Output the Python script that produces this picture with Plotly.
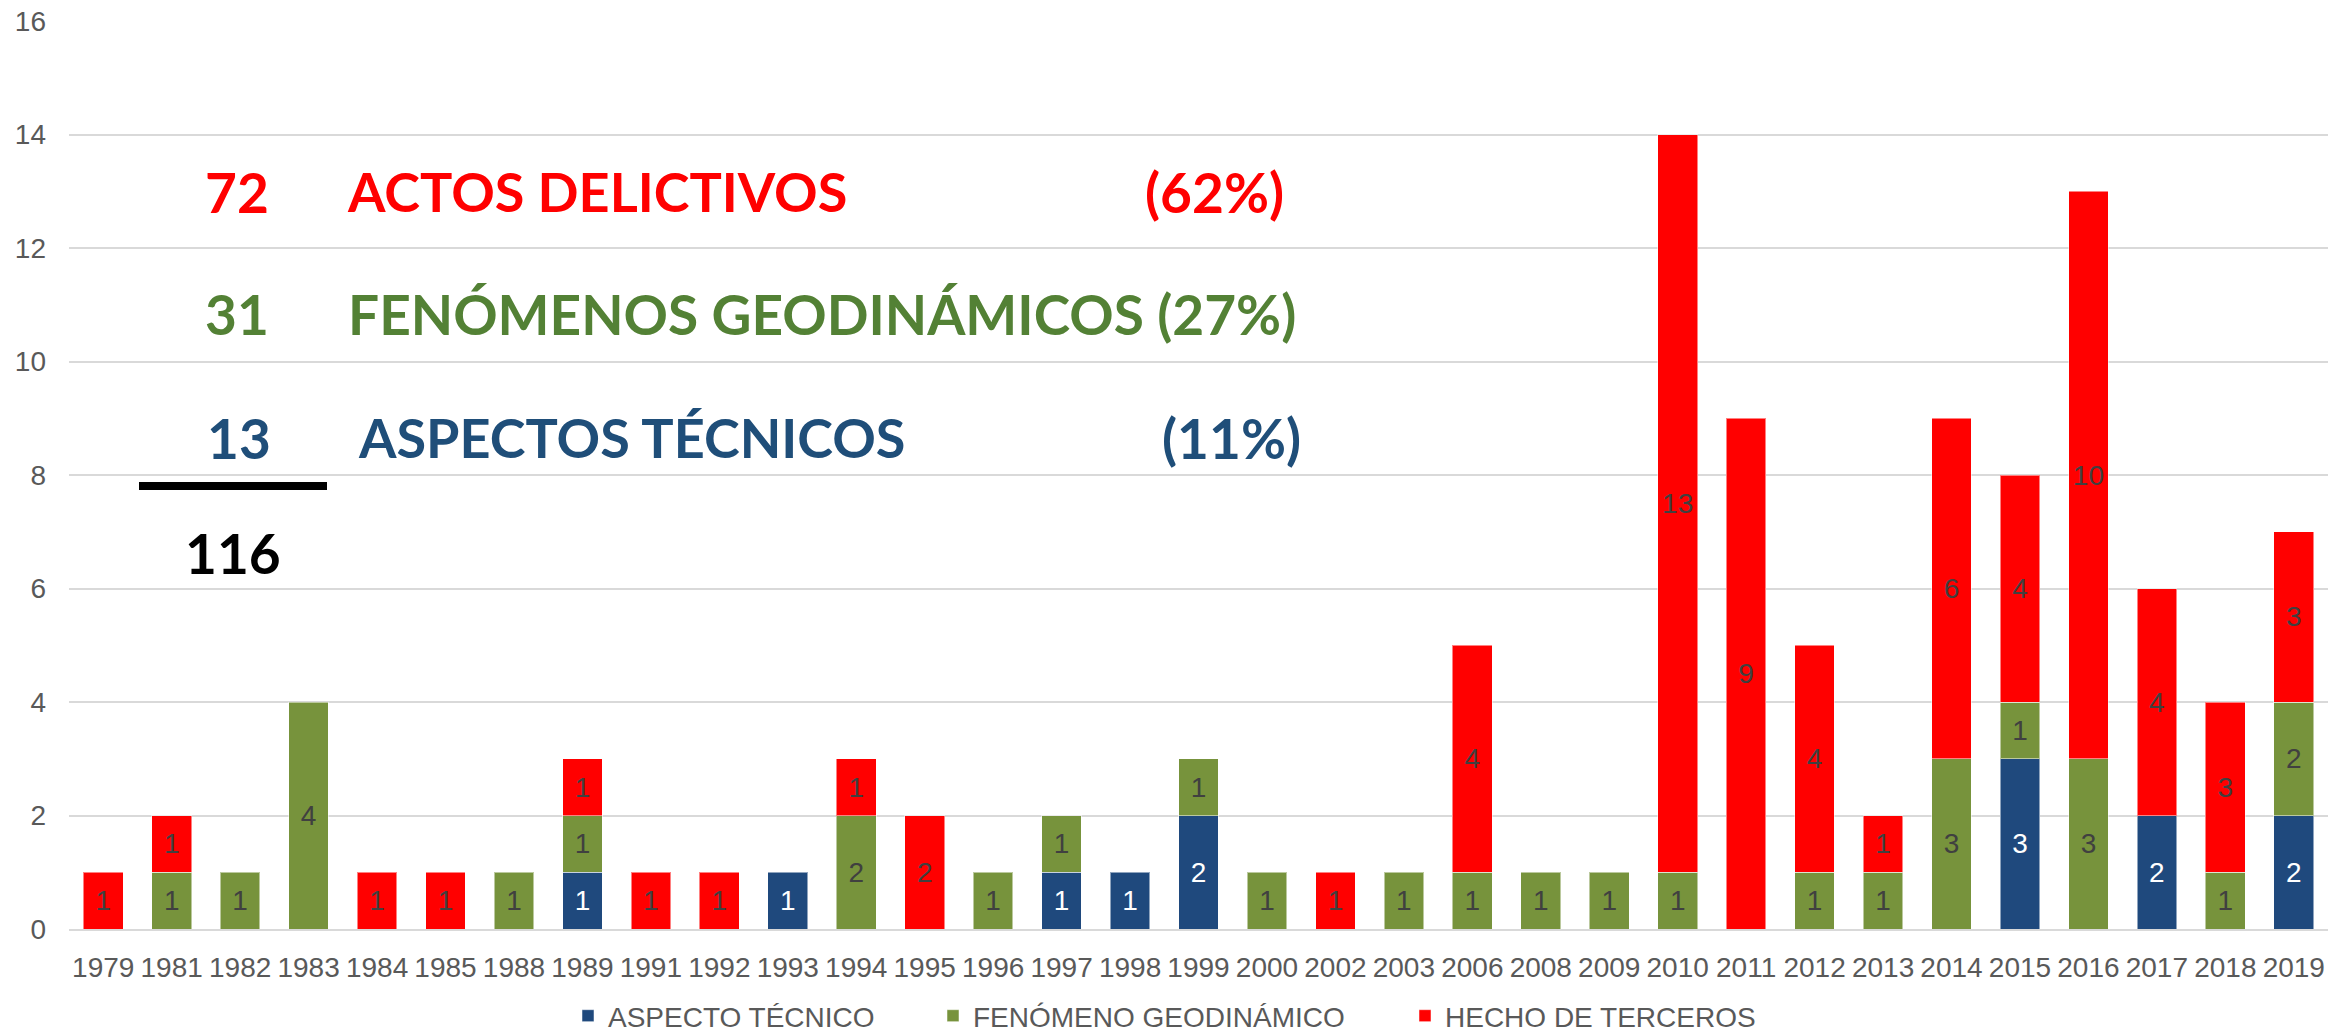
import plotly.graph_objects as go

years = ["1979","1981","1982","1983","1984","1985","1988","1989","1991","1992","1993",
         "1994","1995","1996","1997","1998","1999","2000","2002","2003","2006","2008",
         "2009","2010","2011","2012","2013","2014","2015","2016","2017","2018","2019"]

aspecto_tecnico = [None,None,None,None,None,None,None,1,None,None,1,
                   None,None,None,1,1,2,None,None,None,None,None,
                   None,None,None,None,None,None,3,None,2,None,2]
fenomeno_geodinamico = [None,1,1,4,None,None,1,1,None,None,None,
                        2,None,1,1,None,1,1,None,1,1,1,
                        1,1,None,1,1,3,1,3,None,1,2]
hecho_terceros = [1,1,None,None,1,1,None,1,1,1,None,
                  1,2,None,None,None,None,None,1,None,4,None,
                  None,13,9,4,1,6,4,10,4,3,3]

summary_counts = ["72", "31", "13"]
summary_labels = ["ACTOS DELICTIVOS", "FENÓMENOS GEODINÁMICOS (27%)", "ASPECTOS TÉCNICOS"]
summary_pcts = ["(62%)", None, "(11%)"]
summary_total = "116"

W, H = 2351, 1034
L, R, T, B = 69, 23, 21, 105
PW, PH = W - L - R, H - T - B

def px(x):
    return (x - L) / PW

def py(y):
    return (H - B - y) / PH

BLUE, GREEN, RED = "#1F497D", "#77933C", "#FF0000"
label_font = dict(family="Liberation Sans, Arial", size=28)
tick_font = dict(family="Liberation Sans, Arial", size=28, color="#595959")

legend_text_x = [613, 978, 1450]
legend_names = ["legend", "legend2", "legend3"]

fig = go.Figure()
for i, (name, vals, col, tcol) in enumerate([
    ("ASPECTO TÉCNICO", aspecto_tecnico, BLUE, "white"),
    ("FENÓMENO GEODINÁMICO", fenomeno_geodinamico, GREEN, "#404040"),
    ("HECHO DE TERCEROS", hecho_terceros, RED, "#404040"),
]):
    fig.add_trace(go.Bar(
        x=years, y=vals, name=name, legend=legend_names[i],
        marker=dict(color=col, line=dict(color="rgba(255,255,255,0.5)", width=1)),
        text=[("" if v is None else str(v)) for v in vals],
        textposition="inside", insidetextanchor="middle", textangle=0,
        insidetextfont=dict(color=tcol, **label_font),
        hoverinfo="x+y+name",
    ))

legends = {}
for i, ln in enumerate(legend_names):
    legends[ln] = dict(orientation="h", xref="container", yref="container",
                       x=(legend_text_x[i] - 45) / W, xanchor="left",
                       y=(H - 1016) / H, yanchor="middle",
                       font=dict(family="Liberation Sans, Arial", size=28, color="#595959"),
                       bgcolor="rgba(0,0,0,0)", itemwidth=30)

fig.update_layout(
    width=W, height=H,
    margin=dict(l=L, r=R, t=T, b=B, autoexpand=False),
    barmode="stack", bargap=0.42,
    plot_bgcolor="white", paper_bgcolor="white",
    uniformtext=dict(minsize=28, mode="show"),
    xaxis=dict(type="category", tickfont=tick_font, showgrid=False,
               showline=True, linecolor="#D9D9D9", linewidth=2,
               ticks="", ticklabelstandoff=12),
    yaxis=dict(range=[0, 16], dtick=2, tickfont=tick_font, showgrid=True,
               gridcolor="#D9D9D9", gridwidth=2, zeroline=False,
               showline=False, ticks="", ticklabelstandoff=22),
    showlegend=True,
    **legends,
)

big = "Lato, Calibri, sans-serif"
row_y = [192, 314, 438]
colors = ["#FF0000", "#538135", "#1F4E79"]
count_x = [203, 203, 205]
label_x = [345, 346, 356]
pct_x = [1143, None, 1160]
label_sizes = [54, 55, 54]
for i in range(3):
    fig.add_annotation(x=px(count_x[i]), y=py(row_y[i]), xref="paper", yref="paper",
                       text="<b>%s</b>" % summary_counts[i], showarrow=False,
                       xanchor="left", yanchor="middle",
                       font=dict(family=big, size=55, color=colors[i]))
    fig.add_annotation(x=px(label_x[i]), y=py(row_y[i]), xref="paper", yref="paper",
                       text="<b>%s</b>" % summary_labels[i], showarrow=False,
                       xanchor="left", yanchor="middle",
                       font=dict(family=big, size=label_sizes[i], color=colors[i]))
    if summary_pcts[i]:
        fig.add_annotation(x=px(pct_x[i]), y=py(row_y[i]), xref="paper", yref="paper",
                           text="<b>%s</b>" % summary_pcts[i], showarrow=False,
                           xanchor="left", yanchor="middle",
                           font=dict(family=big, size=55, color=colors[i]))

fig.add_annotation(x=px(183), y=py(553), xref="paper", yref="paper",
                   text="<b>%s</b>" % summary_total, showarrow=False,
                   xanchor="left", yanchor="middle",
                   font=dict(family=big, size=55, color="black"))
fig.add_shape(type="line", xref="paper", yref="paper",
              x0=px(139), x1=px(327), y0=py(486), y1=py(486),
              line=dict(color="black", width=8))

fig.write_html("out.html", config={"displayModeBar": False},
               post_script="document.body.style.margin='0';document.body.style.overflow='hidden';")
